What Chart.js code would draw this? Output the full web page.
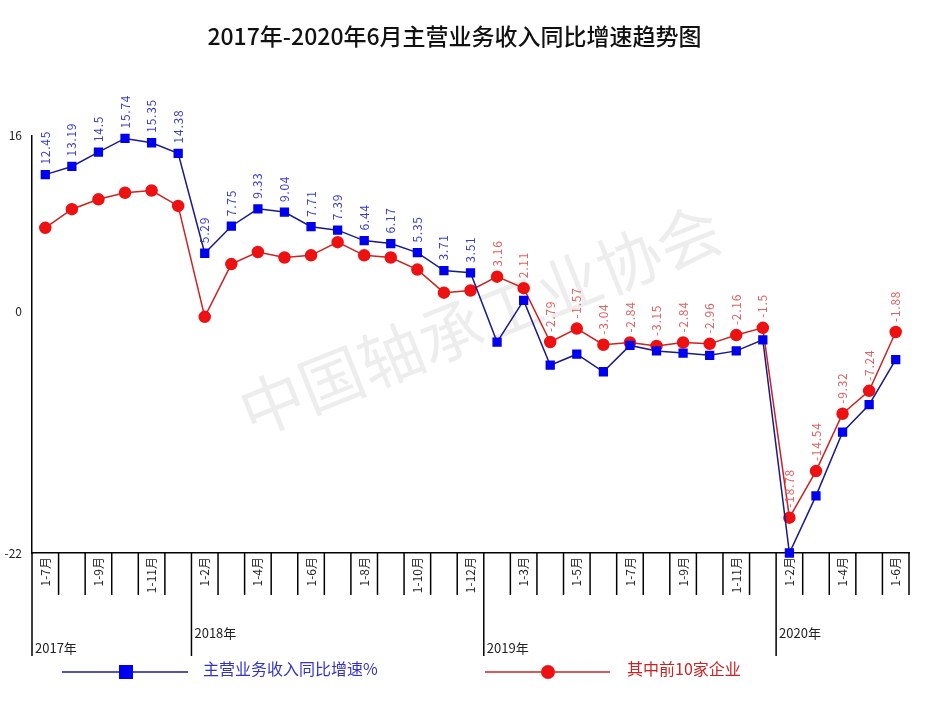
<!DOCTYPE html>
<html><head><meta charset="utf-8">
<script src="https://cdn.jsdelivr.net/npm/chart.js@4"></script>
<style>html,body{margin:0;padding:0;background:#fff}#w{width:939px;height:719px;position:relative}</style>
</head><body><div id="w"><canvas id="c"></canvas></div>
<script>
const categories = ["1-7月","1-8月","1-9月","1-10月","1-11月","1-12月",
 "1-2月","1-3月","1-4月","1-5月","1-6月","1-7月","1-8月","1-9月","1-10月","1-11月","1-12月",
 "1-2月","1-3月","1-4月","1-5月","1-6月","1-7月","1-8月","1-9月","1-10月","1-11月","1-12月",
 "1-2月","1-3月","1-4月","1-5月","1-6月"];
const years = [{name:"2017年",start:0},{name:"2018年",start:6},{name:"2019年",start:17},{name:"2020年",start:28}];
const mainRevenue = [12.45,13.19,14.5,15.74,15.35,14.38,
 5.29,7.75,9.33,9.04,7.71,7.39,6.44,6.17,5.35,3.71,3.51,
 -2.8,1.0,-4.9,-3.9,-5.5,-3.1,-3.6,-3.8,-4.0,-3.6,-2.6,
 -22,-16.8,-11.0,-8.5,-4.4];
const top10 = [7.6,9.3,10.2,10.8,11.0,9.6,
 -0.5,4.3,5.4,4.9,5.1,6.3,5.1,4.9,3.8,1.7,1.9,
 3.16,2.11,-2.79,-1.57,-3.04,-2.84,-3.15,-2.84,-2.96,-2.16,-1.5,
 -18.78,-14.54,-9.32,-7.24,-1.88];
const mainLabelIdx = [0,16];
const top10LabelIdx = [17,32];
const yTicks = [16,0,-22];
const FONT = '"Noto Sans CJK SC","DejaVu Sans",sans-serif';

const decor = {
  id:'decor',
  beforeDraw(ch){
    const c=ch.ctx; c.save();
    c.translate(480,320); c.rotate(-0.38);
    c.font='64px '+FONT; c.fillStyle='rgba(0,0,0,0.07)'; c.textAlign='center'; c.textBaseline='middle';
    c.fillText('中国轴承工业协会',0,0); c.restore();
  },
  afterDraw(ch){
    const c=ch.ctx, x=ch.scales.x, a=ch.chartArea;
    const w = x.getPixelForValue(1)-x.getPixelForValue(0);
    c.save(); c.strokeStyle='#000'; c.lineWidth=1.5;
    const starts = years.map(y=>y.start);
    for(let i=0;i<=categories.length;i++){
      const px = x.getPixelForValue(0)-w/2+i*w;
      const isYear = starts.includes(i);
      c.beginPath(); c.moveTo(px,a.bottom); c.lineTo(px,a.bottom+(isYear?103:42)); c.stroke();
    }
    c.fillStyle='#222'; c.font='12px '+FONT;
    categories.forEach((lab,i)=>{
      if(i%2) return;
      const px=x.getPixelForValue(i);
      c.save(); c.translate(px,a.bottom+4); c.rotate(-Math.PI/2);
      c.textAlign='right'; c.textBaseline='middle'; c.fillText(lab,0,0); c.restore();
    });
    c.font='13px '+FONT; c.textAlign='left'; c.textBaseline='middle';
    years.forEach((y,k)=>{
      const px = x.getPixelForValue(y.start)-w/2+3;
      c.fillText(y.name,px,a.bottom+(k%2?80:95));
    });
    const drawLabels=(meta,data,range,color)=>{
      c.fillStyle=color; c.font='12px '+FONT;
      for(let i=range[0];i<=range[1];i++){
        const p=meta.data[i];
        c.save(); c.translate(p.x,p.y-10); c.rotate(-Math.PI/2);
        c.textAlign='left'; c.textBaseline='middle';
        c.fillText(String(data[i]).split('').join(String.fromCharCode(8202)),0,0); c.restore();
      }
    };
    drawLabels(ch.getDatasetMeta(0),mainRevenue,mainLabelIdx,'#3a3acc');
    drawLabels(ch.getDatasetMeta(1),top10,top10LabelIdx,'#e06060');
    c.lineWidth=1.5;
    c.strokeStyle='#1a1a99'; c.beginPath(); c.moveTo(62,672); c.lineTo(188,672); c.stroke();
    c.fillStyle='#0000ee'; c.fillRect(119,665,14,14);
    c.font='16px '+FONT; c.fillStyle='#3333cc'; c.fillText('主营业务收入同比增速%',203,669);
    c.strokeStyle='#cc2222'; c.beginPath(); c.moveTo(485,672); c.lineTo(610,672); c.stroke();
    c.fillStyle='#ee1111'; c.beginPath(); c.arc(548,672,7,0,Math.PI*2); c.fill();
    c.fillStyle='#cc2222'; c.fillText('其中前10家企业',627,669);
    c.restore();
  }
};

new Chart(document.getElementById('c'),{
  type:'line',
  data:{labels:categories,datasets:[
    {label:'主营业务收入同比增速%',data:mainRevenue,borderColor:'#1a1a8c',borderWidth:1.5,
     pointStyle:'rect',pointRadius:5.5,pointBackgroundColor:'#0000ee',pointBorderColor:'#0000ee',tension:0,clip:false},
    {label:'其中前10家企业',data:top10,borderColor:'#cc2222',borderWidth:1.5,
     pointStyle:'circle',pointRadius:5.5,pointBackgroundColor:'#ee1111',pointBorderColor:'#ee1111',tension:0,clip:false}
  ]},
  plugins:[decor],
  options:{
    responsive:true,maintainAspectRatio:false,animation:false,
    layout:{padding:{top:0,right:30,bottom:158,left:0}},
    plugins:{legend:{display:false},tooltip:{enabled:false},
      title:{display:true,text:'2017年-2020年6月主营业务收入同比增速趋势图',color:'#111',
        font:{size:23,family:FONT,weight:'500'},padding:{top:22,bottom:86}}},
    scales:{
      x:{offset:true,grid:{display:false},ticks:{display:false},border:{color:'#000',width:1.5}},
      y:{min:-22,max:16,grid:{display:false},border:{color:'#000',width:1.5},
        afterBuildTicks(s){s.ticks=yTicks.map(v=>({value:v}));},
        afterFit(s){s.width=32;},
        ticks:{color:'#222',font:{size:12,family:FONT},padding:2}}
    }
  }
});
</script></body></html>
